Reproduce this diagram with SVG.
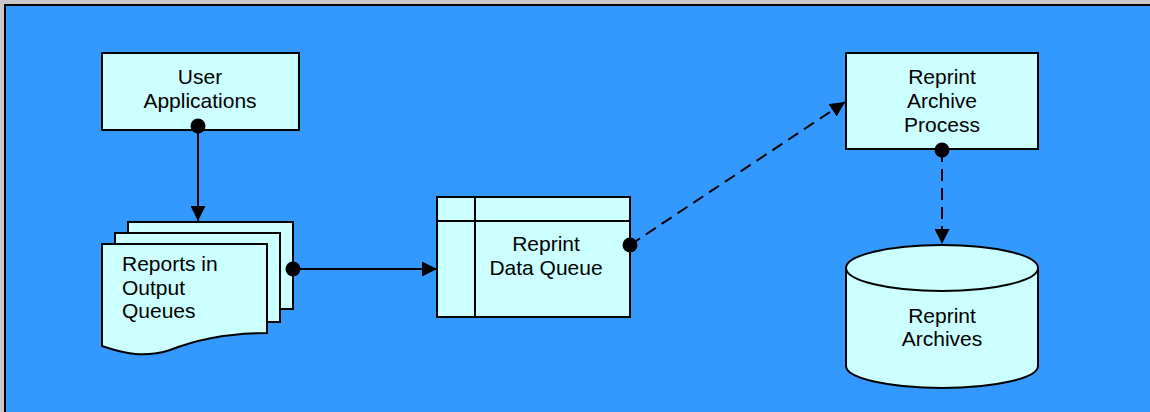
<svg xmlns="http://www.w3.org/2000/svg" width="1150" height="412" viewBox="0 0 1150 412">
<defs>
<style>
.shape{fill:#CCFFFF;stroke:#000;stroke-width:2}
.lbl{font-family:"Liberation Sans",Arial,sans-serif;font-size:21px;fill:#000}
.c{text-anchor:middle}
.conn{stroke:#000;stroke-width:2;fill:none}
.dash{stroke-dasharray:12 7}
.dot{fill:#000}
</style>
<marker id="arrow" viewBox="0 0 15 15" refX="15" refY="7.5" markerWidth="15" markerHeight="15" markerUnits="userSpaceOnUse" orient="auto">
<path d="M0,0 L15,7.5 L0,15 Z" fill="#000"/>
</marker>
</defs>
<rect x="0" y="0" width="1150" height="412" fill="#C8C8C8"/>
<rect x="5" y="5" width="1160" height="420" fill="#3399FF" stroke="#000" stroke-width="2"/>

<g id="user-applications">
<rect class="shape" x="102" y="53" width="197" height="77"/>
<text class="lbl c" x="200" y="84">User</text>
<text class="lbl c" x="200" y="108">Applications</text>
</g>

<g id="reports-output-queues">
<rect class="shape" x="128" y="222" width="165" height="87"/>
<rect class="shape" x="115" y="233" width="165" height="89"/>
<path class="shape" d="M102,244 L267,244 L267,333 C230,333 200,338 170,350 C145,358 125,354 102,346 Z"/>
<text class="lbl" x="122" y="271">Reports in</text>
<text class="lbl" x="122" y="295">Output</text>
<text class="lbl" x="122" y="318">Queues</text>
</g>

<g id="reprint-data-queue">
<rect class="shape" x="437" y="197" width="193" height="120"/>
<line class="conn" x1="437" y1="221" x2="630" y2="221"/>
<line class="conn" x1="475" y1="197" x2="475" y2="317"/>
<text class="lbl c" x="546" y="251">Reprint</text>
<text class="lbl c" x="546" y="275">Data Queue</text>
</g>

<g id="reprint-archive-process">
<rect class="shape" x="846" y="53" width="192" height="96"/>
<text class="lbl c" x="942" y="84">Reprint</text>
<text class="lbl c" x="942" y="108">Archive</text>
<text class="lbl c" x="942" y="132">Process</text>
</g>

<g id="reprint-archives">
<path class="shape" d="M846,268 L846,366 A96,22 0 0 0 1038,366 L1038,268 A96,23 0 0 0 846,268 Z"/>
<path class="shape" d="M846,268 A96,23 0 0 0 1038,268"/>
<text class="lbl c" x="942" y="323">Reprint</text>
<text class="lbl c" x="942" y="346">Archives</text>
</g>

<g id="connectors">
<line class="conn" x1="198" y1="126" x2="198" y2="221" marker-end="url(#arrow)"/>
<circle class="dot" cx="198" cy="126" r="7.5"/>
<line class="conn" x1="293" y1="269" x2="437" y2="269" marker-end="url(#arrow)"/>
<circle class="dot" cx="293" cy="269" r="7.5"/>
<line class="conn dash" x1="630" y1="245" x2="845" y2="102" marker-end="url(#arrow)"/>
<circle class="dot" cx="630" cy="245" r="7.5"/>
<line class="conn dash" x1="942" y1="150" x2="942" y2="244" marker-end="url(#arrow)"/>
<circle class="dot" cx="942" cy="150" r="7.5"/>
</g>
</svg>
